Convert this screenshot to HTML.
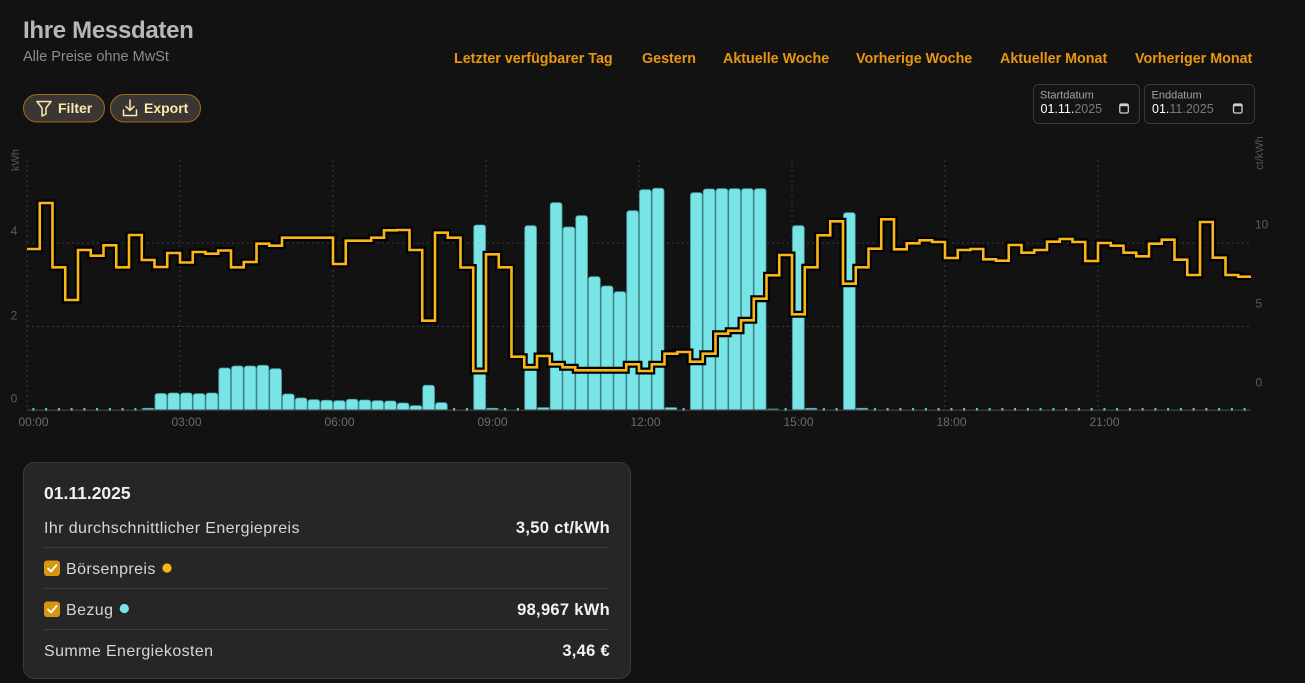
<!DOCTYPE html>
<html>
<head>
<meta charset="utf-8">
<style>
html,body{margin:0;padding:0;background:#131213;}
body{width:1305px;height:683px;overflow:hidden;}
svg{display:block;font-family:"Liberation Sans",sans-serif;}
</style>
</head>
<body>
<svg width="1305" height="683" viewBox="0 0 1305 683" xmlns="http://www.w3.org/2000/svg">
<rect x="0" y="0" width="1305" height="683" fill="#131213"/>

<!-- Header -->
<text x="23" y="38" font-size="24" font-weight="bold" fill="#b6b6bb" letter-spacing="-0.3">Ihre Messdaten</text>
<text x="23" y="61" font-size="14.5" fill="#8c8c8f">Alle Preise ohne MwSt</text>

<g font-size="14.3" font-weight="bold" fill="#e8960f">
<text x="454" y="63">Letzter verfügbarer Tag</text>
<text x="642" y="63">Gestern</text>
<text x="723" y="63">Aktuelle Woche</text>
<text x="856" y="63">Vorherige Woche</text>
<text x="1000" y="63">Aktueller Monat</text>
<text x="1135" y="63">Vorheriger Monat</text>
</g>

<!-- Buttons -->
<rect x="23.5" y="94.5" width="81" height="27.5" rx="13.75" fill="#3a3634" stroke="#a26b12" stroke-width="1"/>
<path d="M37,101.5 H51 L46,108 V114 L42,116 V108 Z" fill="none" stroke="#fde9ae" stroke-width="1.5" stroke-linejoin="round"/>
<text x="58" y="113" font-size="14" font-weight="bold" fill="#fde9ae">Filter</text>
<rect x="110.5" y="94.5" width="90" height="27.5" rx="13.75" fill="#3a3634" stroke="#a26b12" stroke-width="1"/>
<path d="M130,100 V110.5 M126,106.5 L130,110.5 L134,106.5 M123.5,110 V115.5 H136.5 V110" fill="none" stroke="#fde9ae" stroke-width="1.5" stroke-linejoin="round" stroke-linecap="round"/>
<text x="144" y="113" font-size="14" font-weight="bold" fill="#fde9ae">Export</text>

<!-- Date inputs -->
<rect x="1033.5" y="84.5" width="106" height="39" rx="5" fill="#151415" stroke="#3a393a" stroke-width="1"/>
<text x="1040" y="98.5" font-size="11" fill="#a3a3a3">Startdatum</text>
<text x="1040.5" y="113" font-size="12.5"><tspan fill="#ffffff">01.11.</tspan><tspan fill="#7a7a7a">2025</tspan></text>
<rect x="1119.8" y="104" width="8.5" height="9" rx="1.5" fill="none" stroke="#d0d0d0" stroke-width="1.3"/>
<rect x="1119.8" y="104" width="8.5" height="2.2" fill="#d0d0d0"/>

<rect x="1144.5" y="84.5" width="110" height="39" rx="5" fill="#151415" stroke="#3a393a" stroke-width="1"/>
<text x="1151.5" y="98.5" font-size="11" fill="#a3a3a3">Enddatum</text>
<text x="1152" y="113" font-size="12.5"><tspan fill="#ffffff">01.</tspan><tspan fill="#7a7a7a">11.2025</tspan></text>
<rect x="1233.5" y="104" width="8.5" height="9" rx="1.5" fill="none" stroke="#d0d0d0" stroke-width="1.3"/>
<rect x="1233.5" y="104" width="8.5" height="2.2" fill="#d0d0d0"/>

<!-- Chart grid -->
<g stroke="#3b3a3b" stroke-width="1" stroke-dasharray="2,3" fill="none">
<path d="M27,243H1251 M27,326.5H1251"/>
<path d="M27,160V410 M180,160V410 M333,160V410 M486,160V410 M639,160V410 M792,160V410 M945,160V410 M1098,160V410"/>
</g>

<!-- Axis labels -->
<g font-size="12" fill="#5c5c5e">
<text x="14" y="235" text-anchor="middle">4</text>
<text x="14" y="319.3" text-anchor="middle">2</text>
<text x="14" y="402.3" text-anchor="middle">0</text>
<text x="1255" y="228.3">10</text>
<text x="1255.5" y="307.3">5</text>
<text x="1255.5" y="386.3">0</text>
</g>
<text transform="translate(19,160) rotate(-90)" font-size="11" fill="#555557" text-anchor="middle">kWh</text>
<text transform="translate(1263,153) rotate(-90)" font-size="11" fill="#555557" text-anchor="middle">ct/kWh</text>

<g font-size="12" fill="#6b6b6d" text-anchor="middle">
<text x="33.5" y="426">00:00</text>
<text x="186.5" y="426">03:00</text>
<text x="339.5" y="426">06:00</text>
<text x="492.5" y="426">09:00</text>
<text x="645.5" y="426">12:00</text>
<text x="798.5" y="426">15:00</text>
<text x="951.5" y="426">18:00</text>
<text x="1104.5" y="426">21:00</text>
</g>

<!-- Bars -->
<defs>
<clipPath id="plot"><rect x="20" y="150" width="1240" height="260"/></clipPath>
</defs>
<g clip-path="url(#plot)" fill="#78e4e6" stroke="#4aa2a5" stroke-width="0.8">
<rect x="142.25" y="408.3" width="11.75" height="4" rx="1"/>
<rect x="155" y="393.5" width="11.75" height="20" rx="2.5"/>
<rect x="167.75" y="393" width="11.75" height="20" rx="2.5"/>
<rect x="180.5" y="393" width="11.75" height="20" rx="2.5"/>
<rect x="193.25" y="393.7" width="11.75" height="20" rx="2.5"/>
<rect x="206" y="393" width="11.75" height="20" rx="2.5"/>
<rect x="218.75" y="368" width="11.75" height="45" rx="2.5"/>
<rect x="231.5" y="366" width="11.75" height="47" rx="2.5"/>
<rect x="244.25" y="366" width="11.75" height="47" rx="2.5"/>
<rect x="257" y="365.3" width="11.75" height="48" rx="2.5"/>
<rect x="269.75" y="368.7" width="11.75" height="45" rx="2.5"/>
<rect x="282.5" y="394" width="11.75" height="20" rx="2.5"/>
<rect x="295.25" y="398" width="11.75" height="15" rx="2.5"/>
<rect x="308" y="399.7" width="11.75" height="14" rx="2.5"/>
<rect x="320.75" y="400.3" width="11.75" height="13" rx="2.5"/>
<rect x="333.5" y="400.7" width="11.75" height="13" rx="2.5"/>
<rect x="346.25" y="399.3" width="11.75" height="14" rx="2.5"/>
<rect x="359" y="400" width="11.75" height="13" rx="2.5"/>
<rect x="371.75" y="400.7" width="11.75" height="13" rx="2.5"/>
<rect x="384.5" y="401" width="11.75" height="13" rx="2.5"/>
<rect x="397.25" y="403" width="11.75" height="10" rx="2.5"/>
<rect x="410" y="405.7" width="11.75" height="8" rx="2"/>
<rect x="422.75" y="385.3" width="11.75" height="28" rx="2.5"/>
<rect x="435.5" y="402.7" width="11.75" height="10" rx="2.5"/>
<rect x="473.75" y="225" width="11.75" height="188" rx="2.5"/>
<rect x="486.5" y="408.3" width="11.75" height="4" rx="1"/>
<rect x="524.75" y="225.7" width="11.75" height="188" rx="2.5"/>
<rect x="537.5" y="407.7" width="11.75" height="5" rx="1"/>
<rect x="550.25" y="202.7" width="11.75" height="210" rx="2.5"/>
<rect x="563" y="227" width="11.75" height="186" rx="2.5"/>
<rect x="575.75" y="215.7" width="11.75" height="197" rx="2.5"/>
<rect x="588.5" y="276.7" width="11.75" height="136" rx="2.5"/>
<rect x="601.25" y="286" width="11.75" height="127" rx="2.5"/>
<rect x="614" y="291.7" width="11.75" height="121" rx="2.5"/>
<rect x="626.75" y="210.7" width="11.75" height="202" rx="2.5"/>
<rect x="639.5" y="189.7" width="11.75" height="223" rx="2.5"/>
<rect x="652.25" y="188.3" width="11.75" height="225" rx="2.5"/>
<rect x="665" y="407.7" width="11.75" height="5" rx="1"/>
<rect x="690.5" y="192.7" width="11.75" height="220" rx="2.5"/>
<rect x="703.25" y="189" width="11.75" height="224" rx="2.5"/>
<rect x="716" y="188.7" width="11.75" height="224" rx="2.5"/>
<rect x="728.75" y="188.7" width="11.75" height="224" rx="2.5"/>
<rect x="741.5" y="188.7" width="11.75" height="224" rx="2.5"/>
<rect x="754.25" y="188.7" width="11.75" height="224" rx="2.5"/>
<rect x="767" y="409" width="11.75" height="4" rx="1"/>
<rect x="792.5" y="225.7" width="11.75" height="188" rx="2.5"/>
<rect x="805.25" y="408.3" width="11.75" height="4" rx="1"/>
<rect x="843.5" y="212.7" width="11.75" height="200" rx="2.5"/>
<rect x="856.25" y="408.3" width="11.75" height="4" rx="1"/>
</g>

<!-- baseline -->
<path d="M27,410.3H1251" stroke="#38383a" stroke-width="1.5"/>
<path d="M33.4,408v2.5 M46.1,408v2.5 M58.9,408v2.5 M71.6,408v2.5 M84.4,408v2.5 M97.1,408v2.5 M109.9,408v2.5 M122.6,408v2.5 M135.4,408v2.5 M454.1,408v2.5 M466.9,408v2.5 M505.1,408v2.5 M517.9,408v2.5 M683.6,408v2.5 M785.6,408v2.5 M823.9,408v2.5 M836.6,408v2.5 M874.9,408v2.5 M887.6,408v2.5 M900.4,408v2.5 M913.1,408v2.5 M925.9,408v2.5 M938.6,408v2.5 M951.4,408v2.5 M964.1,408v2.5 M976.9,408v2.5 M989.6,408v2.5 M1002.4,408v2.5 M1015.1,408v2.5 M1027.9,408v2.5 M1040.6,408v2.5 M1053.4,408v2.5 M1066.1,408v2.5 M1078.9,408v2.5 M1091.6,408v2.5 M1104.4,408v2.5 M1117.1,408v2.5 M1129.9,408v2.5 M1142.6,408v2.5 M1155.4,408v2.5 M1168.1,408v2.5 M1180.9,408v2.5 M1193.6,408v2.5 M1206.4,408v2.5 M1219.1,408v2.5 M1231.9,408v2.5 M1244.6,408v2.5" stroke="#5cc3c6" stroke-width="2"/>

<!-- Price line -->
<g fill="none" stroke-linejoin="miter">
<path stroke="#000000" stroke-width="7" d="M27,249 H39.75 V203 H52.5 V267.3 H65.25 V300 H78 V250 H90.75 V255.7 H103.5 V245.3 H116.25 V267.3 H129 V235 H141.75 V260 H154.5 V267 H167.25 V253 H180 V262.5 H192.75 V252 H205.5 V253.7 H218.25 V250.5 H231 V267.3 H243.75 V262 H256.5 V243.7 H269.25 V245.7 H282 V237.7 H333 V264 H345.75 V240.7 H371.25 V237.7 H384 V230.3 H396.75 V230 H409.5 V250 H422.25 V320.7 H435 V232.7 H447.75 V237.7 H460.5 V267.5 H473.25 V371 H486 V254.3 H498.75 V267.3 H511.5 V356.7 H524.25 V367.3 H537 V356 H549.75 V364.3 H562.5 V367.3 H575.25 V370.3 H626.25 V364.3 H639 V371 H651.75 V364.3 H664.5 V353.7 H677.25 V352 H690 V361.7 H702.75 V353.7 H715.5 V333.7 H728.25 V330.7 H741 V320.3 H753.75 V298.7 H766.5 V275.3 H779.25 V255 H792 V314.3 H804.75 V267.3 H817.5 V235.3 H830.25 V221.3 H843 V283.7 H855.75 V267.3 H868.5 V248.7 H881.25 V219.3 H894 V249.3 H906.75 V243.3 H919.5 V240.3 H932.25 V242 H945 V258 H957.75 V250 H970.5 V249 H983.25 V259.3 H996 V260.7 H1008.75 V245 H1021.5 V252.7 H1034.25 V250 H1047 V241.7 H1059.75 V239 H1072.5 V242 H1085.25 V261 H1098 V243 H1110.75 V245.7 H1123.5 V252.7 H1136.25 V256.3 H1149 V243.7 H1161.75 V239.7 H1174.5 V259.7 H1187.25 V275 H1200 V222 H1212.75 V257.7 H1225.5 V275 H1238.25 V276.7 H1251"/>
<path stroke="#fbb516" stroke-width="2.6" d="M27,249 H39.75 V203 H52.5 V267.3 H65.25 V300 H78 V250 H90.75 V255.7 H103.5 V245.3 H116.25 V267.3 H129 V235 H141.75 V260 H154.5 V267 H167.25 V253 H180 V262.5 H192.75 V252 H205.5 V253.7 H218.25 V250.5 H231 V267.3 H243.75 V262 H256.5 V243.7 H269.25 V245.7 H282 V237.7 H333 V264 H345.75 V240.7 H371.25 V237.7 H384 V230.3 H396.75 V230 H409.5 V250 H422.25 V320.7 H435 V232.7 H447.75 V237.7 H460.5 V267.5 H473.25 V371 H486 V254.3 H498.75 V267.3 H511.5 V356.7 H524.25 V367.3 H537 V356 H549.75 V364.3 H562.5 V367.3 H575.25 V370.3 H626.25 V364.3 H639 V371 H651.75 V364.3 H664.5 V353.7 H677.25 V352 H690 V361.7 H702.75 V353.7 H715.5 V333.7 H728.25 V330.7 H741 V320.3 H753.75 V298.7 H766.5 V275.3 H779.25 V255 H792 V314.3 H804.75 V267.3 H817.5 V235.3 H830.25 V221.3 H843 V283.7 H855.75 V267.3 H868.5 V248.7 H881.25 V219.3 H894 V249.3 H906.75 V243.3 H919.5 V240.3 H932.25 V242 H945 V258 H957.75 V250 H970.5 V249 H983.25 V259.3 H996 V260.7 H1008.75 V245 H1021.5 V252.7 H1034.25 V250 H1047 V241.7 H1059.75 V239 H1072.5 V242 H1085.25 V261 H1098 V243 H1110.75 V245.7 H1123.5 V252.7 H1136.25 V256.3 H1149 V243.7 H1161.75 V239.7 H1174.5 V259.7 H1187.25 V275 H1200 V222 H1212.75 V257.7 H1225.5 V275 H1238.25 V276.7 H1251"/>
</g>

<!-- Summary card -->
<rect x="23.5" y="462.5" width="607" height="216" rx="11" fill="#272627" stroke="#3b3a3b" stroke-width="1"/>
<text x="44" y="499" font-size="17.5" font-weight="bold" fill="#f0f0f0">01.11.2025</text>
<g font-size="16" fill="#d6d6d6" letter-spacing="0.4">
<text x="44" y="533">Ihr durchschnittlicher Energiepreis</text>
<text x="66" y="574">Börsenpreis</text>
<text x="66" y="615">Bezug</text>
<text x="44" y="656">Summe Energiekosten</text>
</g>
<g font-size="16.5" font-weight="bold" fill="#f2f2f2" text-anchor="end" letter-spacing="0.3">
<text x="610" y="533">3,50 ct/kWh</text>
<text x="610" y="615">98,967 kWh</text>
<text x="610" y="656">3,46 €</text>
</g>
<path d="M44,547.5H609 M44,588.5H609 M44,629.5H609" stroke="#3d3c3d" stroke-width="1"/>
<rect x="44" y="560.5" width="16" height="15.5" rx="3" fill="#d8950f"/>
<path d="M48,568.5 L51,571.5 L56.5,565" fill="none" stroke="#ffffff" stroke-width="1.8" stroke-linecap="round" stroke-linejoin="round"/>
<circle cx="167" cy="568" r="4.6" fill="#fbb516"/>
<rect x="44" y="601.5" width="16" height="15.5" rx="3" fill="#d8950f"/>
<path d="M48,609.5 L51,612.5 L56.5,606" fill="none" stroke="#ffffff" stroke-width="1.8" stroke-linecap="round" stroke-linejoin="round"/>
<circle cx="124.3" cy="608.5" r="4.6" fill="#78e4e6"/>
</svg>
</body>
</html>
